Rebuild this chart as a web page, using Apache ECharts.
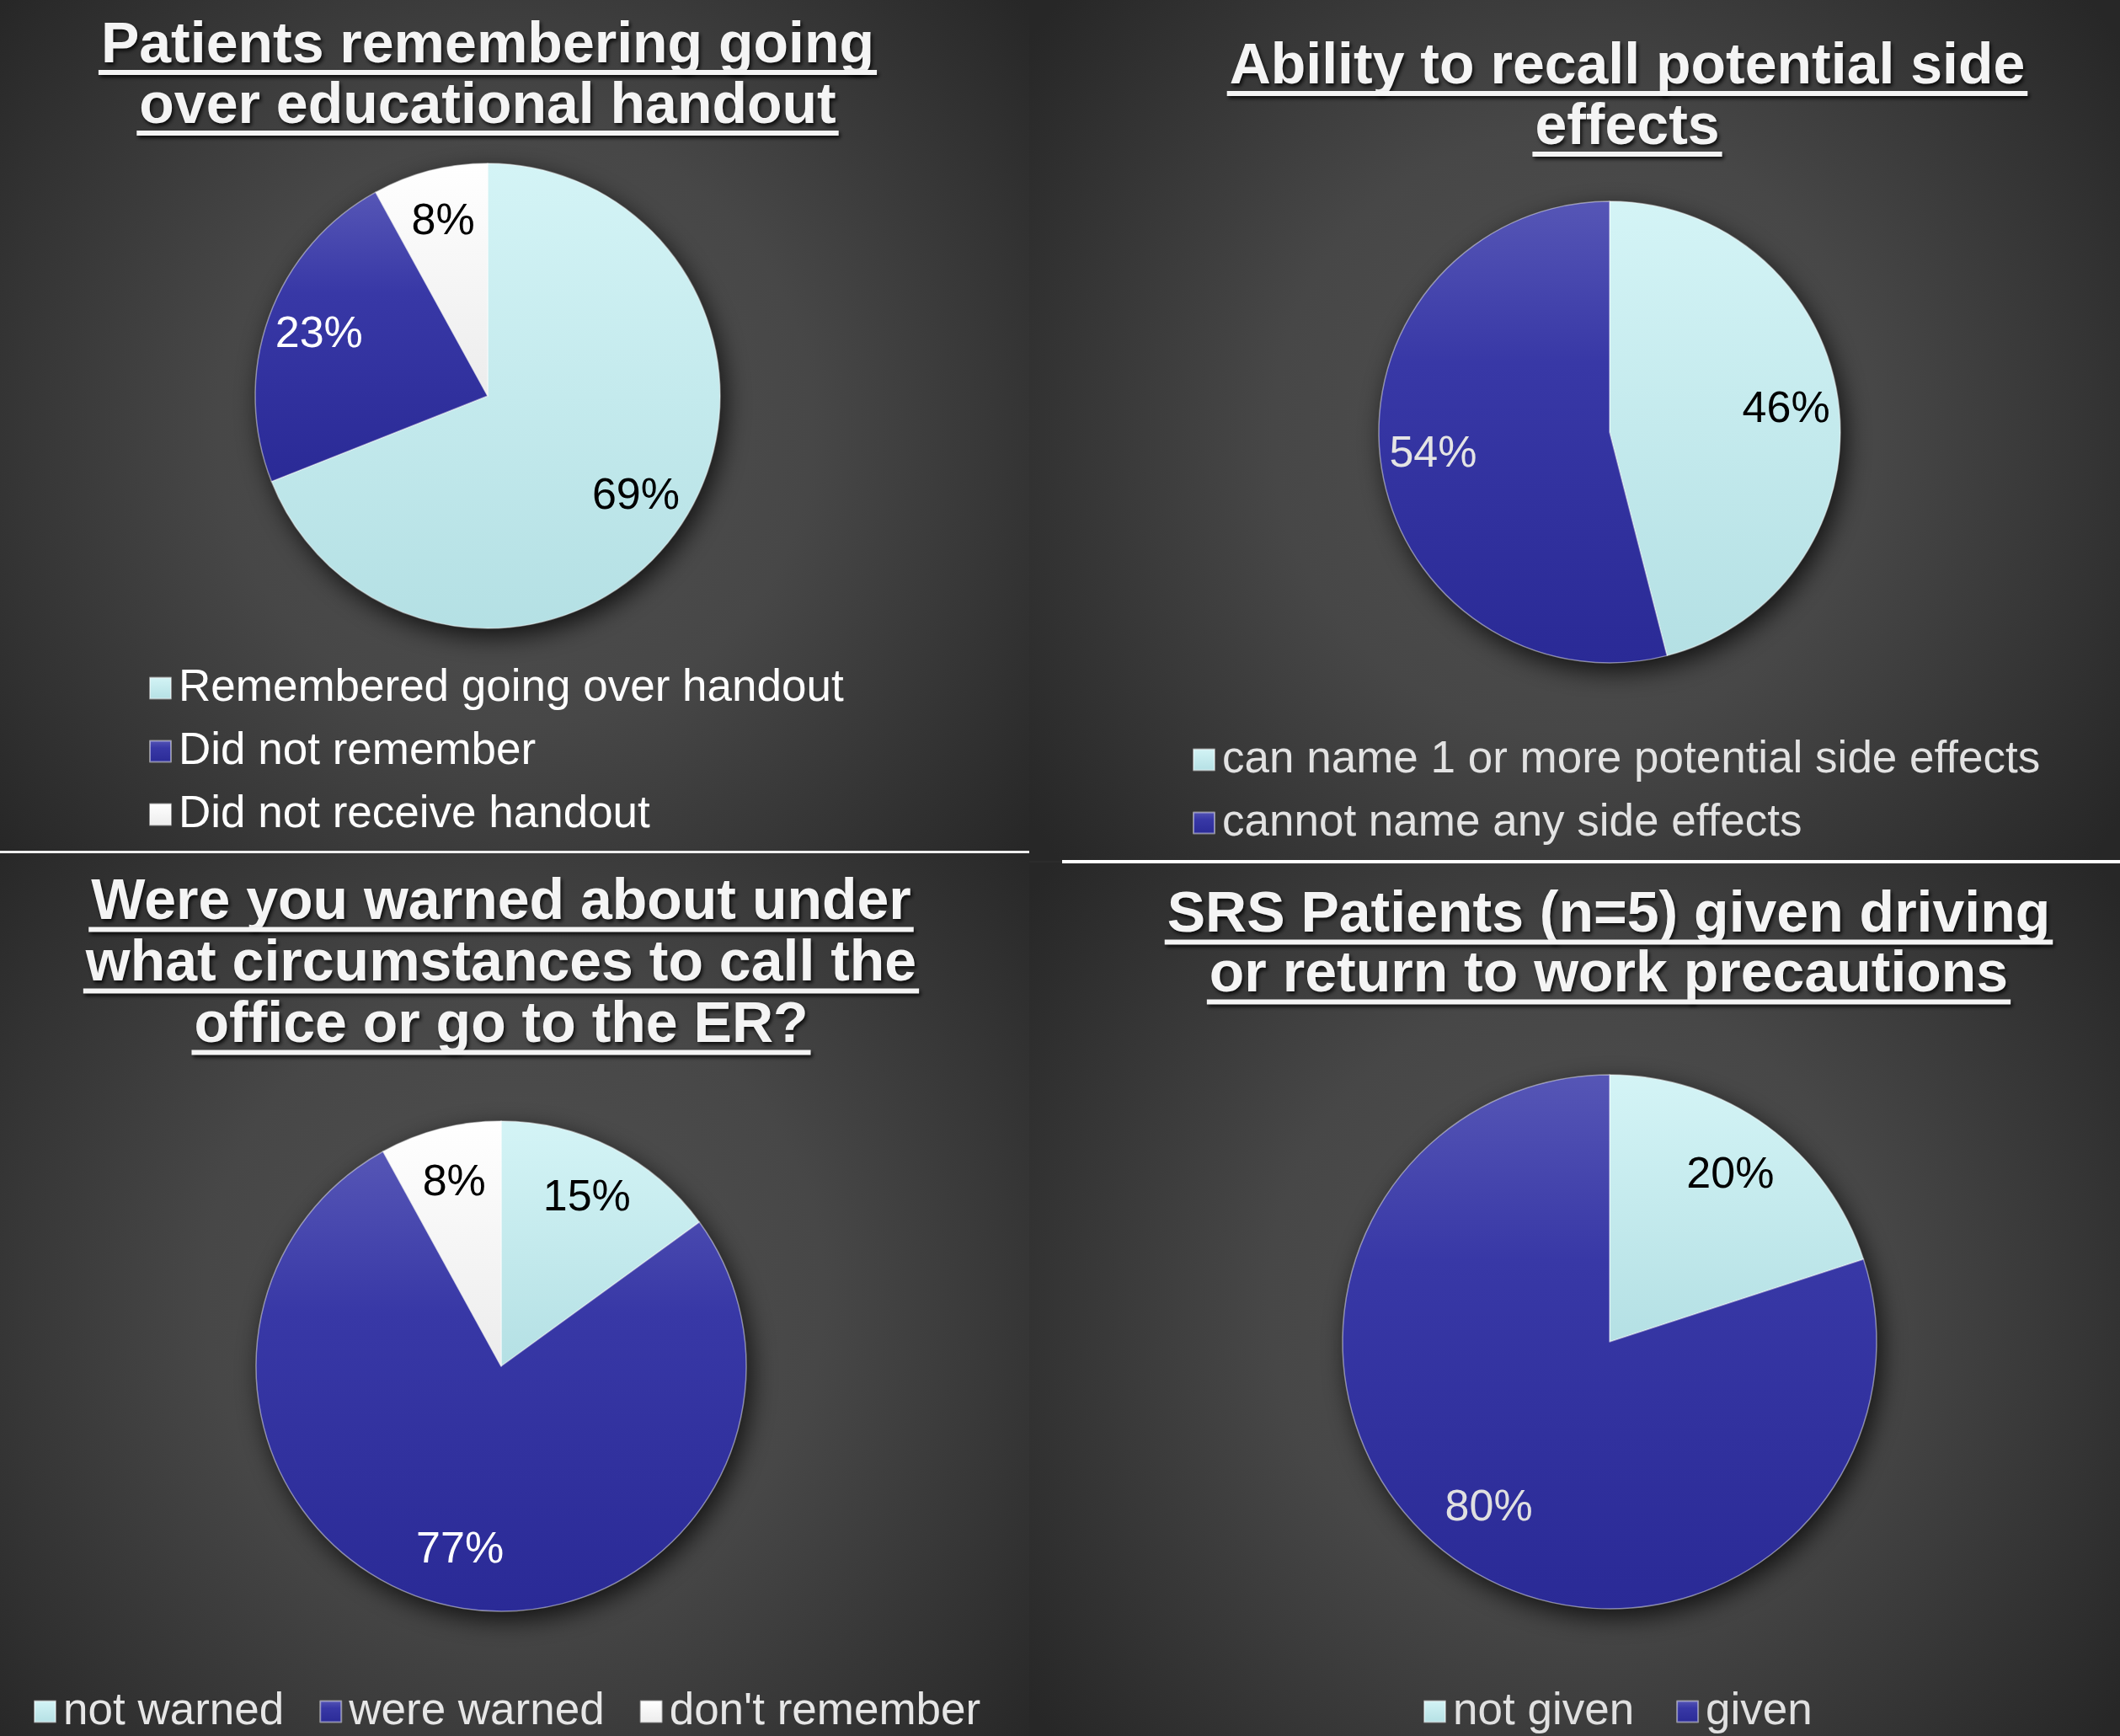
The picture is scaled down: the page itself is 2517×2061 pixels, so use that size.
<!DOCTYPE html>
<html>
<head>
<meta charset="utf-8">
<script src="https://cdn.jsdelivr.net/npm/echarts@6/dist/echarts.min.js"></script>
<style>
html,body{margin:0;padding:0;background:#2c2c2c;}
#main{width:2517px;height:2061px;}
</style>
</head>
<body>
<div id="main"></div>
<script>
// ---------- DATA ----------
const chart1Title = 'Patients remembering going\nover educational handout';
const chart1Names = ['Remembered going over handout', 'Did not remember', 'Did not receive handout'];
const chart1Values = [69, 23, 8];

const chart2Title = 'Ability to recall potential side\neffects';
const chart2Names = ['can name 1 or more potential side effects', 'cannot name any side effects'];
const chart2Values = [46, 54];

const chart3Title = 'Were you warned about under\nwhat circumstances to call the\noffice or go to the ER?';
const chart3Names = ['not warned', 'were warned', "don't remember"];
const chart3Values = [15, 77, 8];

const chart4Title = 'SRS Patients (n=5) given driving\nor return to work precautions';
const chart4Names = ['not given', 'given'];
const chart4Values = [20, 80];

// ---------- STYLE ----------
const FONT = '"Liberation Sans", Arial, Helvetica, sans-serif';
const TITLE_SIZE = 68;
const LG = echarts.graphic.LinearGradient;
const CYAN = () => new LG(0, 0, 0, 1, [{offset: 0, color: '#d4f4f6'}, {offset: 1, color: '#b4e0e4'}]);
const BLUE = () => new LG(0, 0, 0, 1, [{offset: 0, color: '#5656b6'}, {offset: 0.35, color: '#3838a6'}, {offset: 1, color: '#2a2a96'}]);
const WHITE = () => new LG(0, 0, 0, 1, [{offset: 0, color: '#ffffff'}, {offset: 1, color: '#ececec'}]);

const charts = [
  {title: chart1Title, names: chart1Names, values: chart1Values,
   fills: [CYAN, BLUE, WHITE], labelColors: ['#000000', '#ffffff', '#000000'],
   center: [579, 470], r: 276, titleX: 579, titleTop: 19, titleLH: 72,
   legend: {orient: 'vertical', left: 172, top: 783, color: '#ffffff', gap: 17}},
  {title: chart2Title, names: chart2Names, values: chart2Values,
   fills: [CYAN, BLUE], labelColors: ['#000000', '#e4e4e4'],
   center: [1911, 513], r: 274, titleX: 1932, titleTop: 44, titleLH: 72,
   legend: {orient: 'vertical', left: 1411, top: 868, color: '#e2e2e2', gap: 17}},
  {title: chart3Title, names: chart3Names, values: chart3Values,
   fills: [CYAN, BLUE, WHITE], labelColors: ['#000000', '#ffffff', '#000000'],
   center: [595, 1622], r: 291, titleX: 595, titleTop: 1036, titleLH: 73,
   legend: {orient: 'horizontal', left: 35, top: 1998, color: '#e6e6e6', gap: 42}},
  {title: chart4Title, names: chart4Names, values: chart4Values,
   fills: [CYAN, BLUE], labelColors: ['#000000', '#e0e0e0'],
   center: [1911, 1593], r: 317, titleX: 1910, titleTop: 1052, titleLH: 71,
   legend: {orient: 'horizontal', left: 1685, top: 1998, color: '#e0e0e0', gap: 50}}
];

const measureCtx = document.createElement('canvas').getContext('2d');
measureCtx.font = 'bold ' + TITLE_SIZE + 'px ' + FONT;

const titles = [], legends = [], series = [], graphics = [];

// background panels
const panels = [[0, 0, 1222, 1011], [1222, 0, 1295, 1022], [0, 1012, 1222, 1049], [1222, 1024, 1295, 1037]];
panels.forEach(p => {
  graphics.push({type: 'rect', z: -10, silent: true,
    shape: {x: p[0], y: p[1], width: p[2], height: p[3]},
    style: {fill: new echarts.graphic.RadialGradient(0.5, 0.5, 0.78, [
      {offset: 0, color: '#505050'}, {offset: 0.45, color: '#474747'}, {offset: 1, color: '#272727'}])}});
});
// divider lines
graphics.push({type: 'rect', z: 5, silent: true, shape: {x: 0, y: 1010, width: 1222, height: 3}, style: {fill: '#eeeeee'}});
graphics.push({type: 'rect', z: 5, silent: true, shape: {x: 1261, y: 1021, width: 1256, height: 4}, style: {fill: '#ffffff'}});

charts.forEach((c, i) => {
  titles.push({
    text: c.title, left: c.titleX, top: c.titleTop, textAlign: 'center', padding: 0,
    textStyle: {fontFamily: FONT, fontWeight: 'bold', fontSize: TITLE_SIZE, lineHeight: c.titleLH,
      color: '#f4f4f4', textShadowColor: 'rgba(0,0,0,0.8)', textShadowBlur: 4,
      textShadowOffsetX: 2, textShadowOffsetY: 3}
  });
  // underlines
  c.title.split('\n').forEach((line, k) => {
    const w = measureCtx.measureText(line).width;
    const y = c.titleTop + c.titleLH * (k + 0.5) + 31;
    graphics.push({type: 'rect', z: 10, silent: true,
      shape: {x: c.titleX - w / 2 - 3, y: y - 3, width: w + 6, height: 6},
      style: {fill: '#f4f4f4', shadowColor: 'rgba(0,0,0,0.8)', shadowBlur: 4, shadowOffsetX: 2, shadowOffsetY: 3}});
  });

  legends.push({
    data: c.names, orient: c.legend.orient, left: c.legend.left, top: c.legend.top,
    icon: 'rect', itemWidth: 25, itemHeight: 25, itemGap: c.legend.gap, selectedMode: false,
    textStyle: {fontFamily: FONT, fontSize: 53, lineHeight: 58, color: c.legend.color, padding: [0, 0, 0, 4]}
  });

  const sliceData = c.names.map((n, j) => ({
    name: n, value: c.values[j],
    itemStyle: {color: c.fills[j]()}
  }));

  // shadow base
  series.push({type: 'pie', silent: true, center: c.center, radius: c.r, z: 1,
    legendHoverLink: false, label: {show: false}, labelLine: {show: false},
    data: [{name: 'shadow' + i, value: 1}],
    itemStyle: {color: '#333333', shadowBlur: 30, shadowColor: 'rgba(0,0,0,0.75)', shadowOffsetX: 6, shadowOffsetY: 10}});
  // slices
  series.push({type: 'pie', center: c.center, radius: c.r, z: 2, startAngle: 90, clockwise: true,
    label: {show: false}, labelLine: {show: false},
    itemStyle: {borderColor: 'rgba(255,255,255,0.45)', borderWidth: 1.5},
    emphasis: {disabled: true},
    data: sliceData});
  // labels
  series.push({type: 'pie', silent: true, center: c.center, radius: [c.r * 0.52, c.r], z: 3,
    startAngle: 90, clockwise: true,
    itemStyle: {color: 'rgba(0,0,0,0)', borderWidth: 0},
    label: {show: true, position: 'inside', formatter: '{c}%', fontFamily: FONT, fontSize: 52},
    labelLine: {show: false},
    emphasis: {disabled: true},
    data: c.names.map((n, j) => ({name: n, value: c.values[j], label: {color: c.labelColors[j]}}))});
});

const chart = echarts.init(document.getElementById('main'), null, {renderer: 'canvas'});
chart.setOption({
  backgroundColor: '#2c2c2c',
  animation: false,
  title: titles,
  legend: legends,
  series: series,
  graphic: graphics
});
</script>
</body>
</html>
